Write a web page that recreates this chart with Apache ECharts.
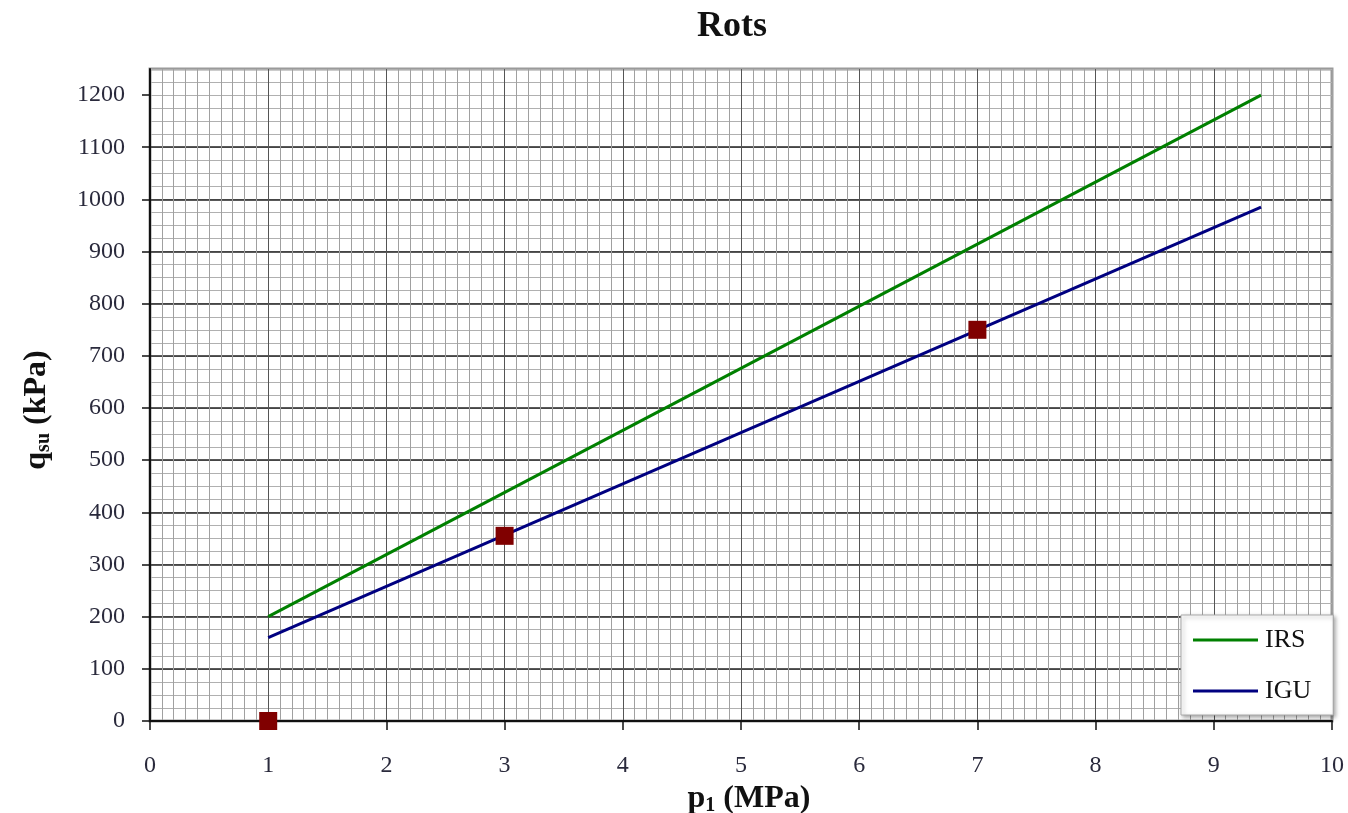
<!DOCTYPE html>
<html>
<head>
<meta charset="utf-8">
<script src="https://cdn.jsdelivr.net/npm/echarts@6/dist/echarts.min.js"></script>
<style>html,body{margin:0;padding:0;background:#fff}#c{width:1348px;height:813px}</style>
</head>
<body>
<div id="c"></div>
<script>
const xTicks = [0, 1, 2, 3, 4, 5, 6, 7, 8, 9, 10];
const yTicks = [0, 100, 200, 300, 400, 500, 600, 700, 800, 900, 1000, 1100, 1200];
const irsX = [1, 9.4];
const irsY = [200, 1200];
const iguX = [1, 9.4];
const iguY = [160, 985];
const ptsX = [1, 3, 7];
const ptsY = [0, 355, 750];

const font = 'Liberation Serif';
const labelColor = '#2a2a3c';
const chart = echarts.init(document.getElementById('c'));
chart.setOption({
  animation: false,
  backgroundColor: '#fff',
  title: {
    text: 'Rots', left: 727, top: 4, textAlign: 'center',
    textStyle: {fontFamily: font, fontWeight: 'bold', fontSize: 36, color: '#111'}
  },
  grid: {left: 150, top: 69, width: 1182, height: 652, outerBoundsMode: 'none', containLabel: false,
         show: true, borderColor: '#9a9a9a', borderWidth: 3, backgroundColor: '#fff'},
  legend: {
    orient: 'vertical', left: 1181, top: 615,
    padding: [12, 22, 11, 12], itemGap: 25, itemWidth: 65, itemHeight: 3,
    backgroundColor: '#fff', borderColor: '#aaa', borderWidth: 1,
    shadowColor: 'rgba(0,0,0,0.35)', shadowBlur: 4, shadowOffsetX: 2, shadowOffsetY: 2,
    textStyle: {fontFamily: font, fontSize: 26, color: '#111', padding: [0, 0, 0, 2]},
    data: [{name: 'IRS', icon: 'rect'}, {name: 'IGU', icon: 'rect'}]
  },
  xAxis: [
    {type: 'value', position: 'bottom', min: 0, max: 10, interval: 0.1,
     axisLine: {show: false}, axisTick: {show: false}, axisLabel: {show: false},
     splitLine: {show: true, lineStyle: {color: '#a0a0a0', width: 1}}},
    {type: 'value', position: 'bottom', min: 0, max: 10, interval: 1,
     axisLine: {show: true, onZero: false, lineStyle: {color: '#111', width: 2}},
     axisTick: {show: true, length: 9, lineStyle: {color: '#111', width: 1.5}},
     axisLabel: {show: true, margin: 33, fontFamily: font, fontSize: 24, color: labelColor,
       customValues: xTicks, formatter: v => String(v)},
     splitLine: {show: true, showMinLine: false, showMaxLine: false, lineStyle: {color: '#555', width: 1}},
     name: '{a|p}{b|1}{a| (MPa)}', nameLocation: 'middle', nameGap: 52,
     nameTextStyle: {padding: [0, 0, 0, 16], rich: {
       a: {fontFamily: font, fontSize: 32, fontWeight: 'bold', color: '#111', lineHeight: 38, verticalAlign: 'middle'},
       b: {fontFamily: font, fontSize: 20, fontWeight: 'bold', color: '#111', lineHeight: 38, verticalAlign: 'bottom', padding: [0, 0, 2, 0]}
     }}}
  ],
  yAxis: [
    {type: 'value', position: 'left', min: 0, max: 1250, interval: 25,
     axisLine: {show: false}, axisTick: {show: false}, axisLabel: {show: false},
     splitLine: {show: true, lineStyle: {color: '#b0b0b0', width: 1}}},
    {type: 'value', position: 'left', min: 0, max: 1250, interval: 100,
     axisLine: {show: true, onZero: false, lineStyle: {color: '#111', width: 2}},
     axisTick: {show: true, length: 8, lineStyle: {color: '#111', width: 1.5}, customValues: yTicks},
     axisLabel: {show: true, margin: 25, fontFamily: font, fontSize: 24, color: labelColor,
       customValues: yTicks, formatter: v => String(v)},
     splitLine: {show: true, showMinLine: false, showMaxLine: false, lineStyle: {color: '#222', width: 1.5}},
     name: '{a|q}{b|su}{a| (kPa)}', nameLocation: 'middle', nameGap: 94, nameRotate: 90,
     nameTextStyle: {padding: [0, 30, 0, 0], rich: {
       a: {fontFamily: font, fontSize: 32, fontWeight: 'bold', color: '#111', lineHeight: 38, verticalAlign: 'middle'},
       b: {fontFamily: font, fontSize: 20, fontWeight: 'bold', color: '#111', lineHeight: 38, verticalAlign: 'bottom', padding: [0, 0, 2, 0]}
     }}}
  ],
  series: [
    {name: 'IRS', type: 'line', xAxisIndex: 1, yAxisIndex: 1, showSymbol: false, z: 3,
     color: '#008000', lineStyle: {color: '#008000', width: 3},
     data: irsX.map((x, i) => [x, irsY[i]])},
    {name: 'IGU', type: 'line', xAxisIndex: 1, yAxisIndex: 1, showSymbol: false, z: 3,
     color: '#000080', lineStyle: {color: '#000080', width: 3},
     data: iguX.map((x, i) => [x, iguY[i]])},
    {name: 'points', type: 'scatter', xAxisIndex: 1, yAxisIndex: 1, z: 5, clip: false,
     symbol: 'rect', symbolSize: 18, itemStyle: {color: '#800000', opacity: 1},
     data: ptsX.map((x, i) => [x, ptsY[i]])}
  ]
});
</script>
</body>
</html>
